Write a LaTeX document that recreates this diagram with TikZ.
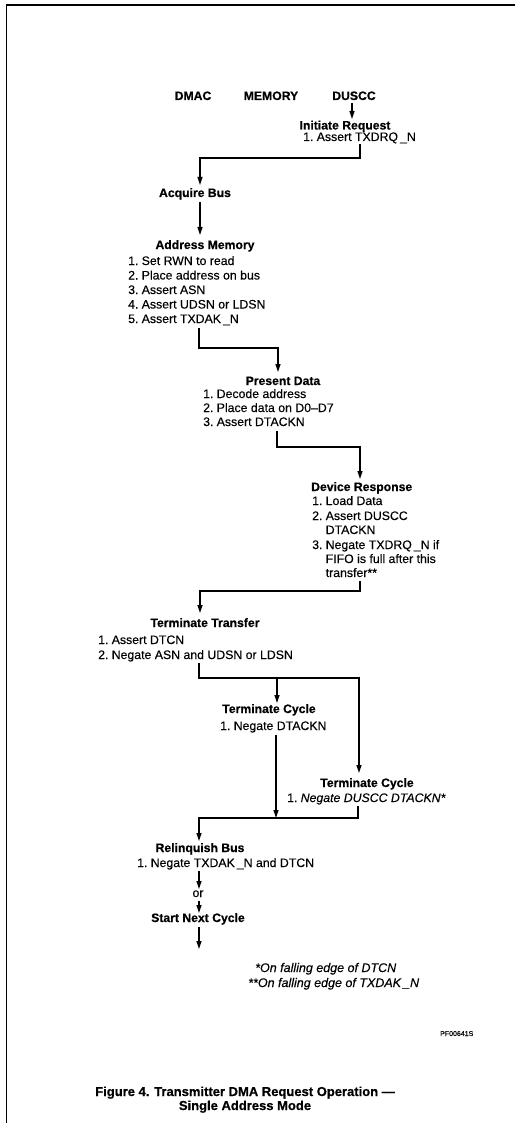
\documentclass[tikz,border=0pt]{standalone}
\usepackage{fontspec}
\setmainfont{Liberation Sans}
\newfontfamily\rgfont{Liberation Sans}[Ligatures=TeX,UprightFeatures={FakeBold=0.25},ItalicFeatures={FakeBold=0.25}]
\newfontfamily\hdfont{Liberation Sans}[Ligatures=TeX,BoldFeatures={FakeBold=0.6}]
\usetikzlibrary{arrows.meta}
\newcommand\itemno[1]{\makebox[1.1em][l]{#1}}
\begin{document}
\begin{tikzpicture}[x=1pt,y=-1pt,
  hd/.style={font=\fontsize{12.2}{14}\selectfont\hdfont\bfseries,inner sep=0pt,anchor=base},
  tx/.style={font=\fontsize{12.3}{14.5}\selectfont\rgfont,inner sep=0pt,anchor=base west},
  txi/.style={tx,font=\fontsize{12.5}{14.5}\selectfont\rgfont\itshape},
  ar/.style={line width=1.2pt,-{Triangle[length=8pt,width=5pt]}},
  frameline/.style={line width=1.4pt},
  captxt/.style={font=\fontsize{13}{15}\selectfont\hdfont\bfseries,inner sep=0pt,anchor=base}]
\path[use as bounding box] (0,0) rectangle (515,1123);
% frame
\coordinate (f1) at (515,5);
\coordinate (f2) at (6.5,5);
\coordinate (f3) at (6.5,1123);
\draw[frameline] (f1) -- (f2) -- (f3);
% column headers
\node[hd] (dmac) at (193,100) {DMAC};
\node[hd] (mem) at (271,100) {MEMORY};
\node[hd] (duscc) at (354,100) {DUSCC};
% initiate request
\node[hd] (ir) at (345,129.5) {Initiate Request};
\node[tx] (ir1) at (303,141) {\itemno{1.}Assert TXDRQ\,\_N};
\coordinate (a1s) at (352,103);
\coordinate (a1e) at (352,119);
\draw[ar] (a1s) -- (a1e);
% acquire bus
\node[hd] (acq) at (195,197) {Acquire Bus};
\coordinate (c2a) at (360,144);
\coordinate (c2b) at (360,158);
\coordinate (c2c) at (200,158);
\coordinate (c2d) at (200,185);
\draw[ar] (c2a) -- (c2b) -- (c2c) -- (c2d);
\coordinate (a3s) at (200,202);
\coordinate (a3e) at (200,235);
\draw[ar] (a3s) -- (a3e);
% address memory
\node[hd] (am) at (205,249) {Address Memory};
\node[tx] (am1) at (128,265) {\itemno{1.}Set RWN to read};
\node[tx] (am2) at (128,279.5) {\itemno{2.}Place address on bus};
\node[tx] (am3) at (128,294) {\itemno{3.}Assert ASN};
\node[tx] (am4) at (128,308.5) {\itemno{4.}Assert UDSN or LDSN};
\node[tx] (am5) at (128,323) {\itemno{5.}Assert TXDAK\,\_N};
\coordinate (c4a) at (199,328);
\coordinate (c4b) at (199,348);
\coordinate (c4c) at (278,348);
\coordinate (c4d) at (278,372);
\draw[ar] (c4a) -- (c4b) -- (c4c) -- (c4d);
% present data
\node[hd] (pd) at (283,385) {Present Data};
\node[tx] (pd1) at (203,398) {\itemno{1.}Decode address};
\node[tx] (pd2) at (203,412) {\itemno{2.}Place data on D0–D7};
\node[tx] (pd3) at (203,426) {\itemno{3.}Assert DTACKN};
\coordinate (c5a) at (277,431);
\coordinate (c5b) at (277,447);
\coordinate (c5c) at (360,447);
\coordinate (c5d) at (360,479);
\draw[ar] (c5a) -- (c5b) -- (c5c) -- (c5d);
% device response
\node[hd,anchor=base west] (dr) at (311,491) {Device Response};
\node[tx] (dr1) at (312,505) {\itemno{1.}Load Data};
\node[tx] (dr2) at (312,520) {\itemno{2.}Assert DUSCC};
\node[tx] (dr2b) at (312,534) {\itemno{}DTACKN};
\node[tx] (dr3) at (312,549) {\itemno{3.}Negate TXDRQ\,\_N if};
\node[tx] (dr3b) at (312,563) {\itemno{}FIFO is full after this};
\node[tx] (dr3c) at (312,577) {\itemno{}transfer**};
\coordinate (c6a) at (360,581);
\coordinate (c6b) at (360,591);
\coordinate (c6c) at (200,591);
\coordinate (c6d) at (200,613);
\draw[ar] (c6a) -- (c6b) -- (c6c) -- (c6d);
% terminate transfer
\node[hd] (tt) at (205,627) {Terminate Transfer};
\node[tx] (tt1) at (98,644) {\itemno{1.}Assert DTCN};
\node[tx] (tt2) at (98,659) {\itemno{2.}Negate ASN and UDSN or LDSN};
\coordinate (c7a) at (199,663);
\coordinate (c7b) at (199,678);
\coordinate (c7m) at (277,678);
\coordinate (c7c) at (359,678);
\coordinate (c7d) at (359,773);
\coordinate (c7e) at (277,703);
\draw[ar] (c7a) -- (c7b) -- (c7c) -- (c7d);
\draw[ar] (c7m) -- (c7e);
% terminate cycle 1
\node[hd] (tc1) at (269,713) {Terminate Cycle};
\node[tx] (tc11) at (220,730) {\itemno{1.}Negate DTACKN};
% terminate cycle 2
\node[hd] (tc2) at (367,787) {Terminate Cycle};
\node[tx] (tc21) at (287,802) {\itemno{1.}\itshape Negate DUSCC DTACKN*};
\coordinate (c8a) at (276,735);
\coordinate (c8b) at (276,818);
\draw[ar] (c8a) -- (c8b);
\coordinate (c9a) at (358,806);
\coordinate (c9b) at (358,818);
\coordinate (c9c) at (199,818);
\coordinate (c9d) at (199,841);
\draw[ar] (c9a) -- (c9b) -- (c9c) -- (c9d);
% relinquish bus
\node[hd] (rb) at (200,852) {Relinquish Bus};
\node[tx] (rb1) at (137,867) {\itemno{1.}Negate TXDAK\,\_N and DTCN};
\coordinate (a10s) at (199,871);
\coordinate (a10e) at (199,889);
\draw[ar] (a10s) -- (a10e);
\node[tx,anchor=base] (or) at (198,897) {or};
\coordinate (a11s) at (199,901);
\coordinate (a11e) at (199,913);
\draw[ar] (a11s) -- (a11e);
\node[hd] (snc) at (198,922) {Start Next Cycle};
\coordinate (a12s) at (199,927);
\coordinate (a12e) at (199,949);
\draw[ar] (a12s) -- (a12e);
% footnotes
\node[txi] (fn1) at (255,972) {*On falling edge of DTCN};
\node[txi] (fn2) at (248,987) {**On falling edge of TXDAK\,\_N};
\node[tx,font=\fontsize{7}{8}\selectfont\rgfont] (pf) at (440,1036) {PF00641S};
% caption
\node[captxt] (cap1) at (245,1096) {Figure 4. Transmitter DMA Request Operation —};
\node[captxt] (cap2) at (245,1110) {Single Address Mode};
\end{tikzpicture}
\end{document}
